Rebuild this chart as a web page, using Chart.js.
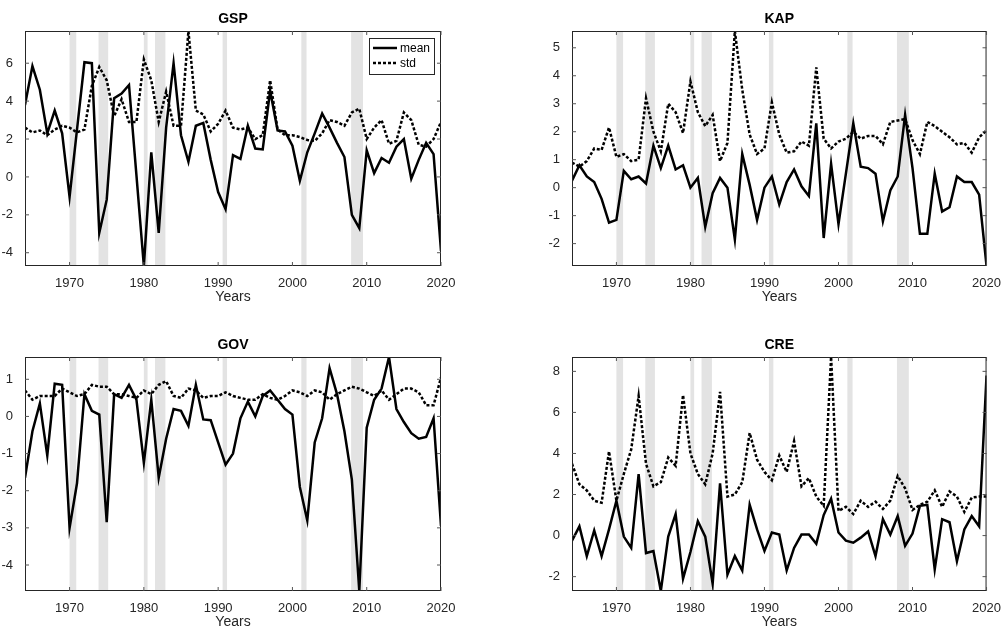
<!DOCTYPE html>
<html>
<head>
<meta charset="utf-8">
<script src="https://cdn.jsdelivr.net/npm/chart.js@4/dist/chart.umd.min.js"></script>
<style>
body { margin:0; background:#fff; }
.box { position:absolute; }
</style>
</head>
<body>
<div class="box" style="left:0;top:0;width:500px;height:310px"><canvas id="gsp"></canvas></div>
<div class="box" style="left:500px;top:0;width:503px;height:310px"><canvas id="kap"></canvas></div>
<div class="box" style="left:0;top:320px;width:500px;height:307px"><canvas id="gov"></canvas></div>
<div class="box" style="left:500px;top:320px;width:503px;height:307px"><canvas id="cre"></canvas></div>
<script>
var years = [];
for (var y = 1964; y <= 2020; y++) years.push(y);

var recessions = [[1970.0,1970.9],[1973.9,1975.2],[1980.0,1980.5],[1981.5,1982.9],[1990.6,1991.2],[2001.2,2001.9],[2007.9,2009.5]];

var gspMean = [3.8,5.85,4.6,2.3,3.5,2.3,-1.05,2.5,6.05,6.0,-2.95,-1.2,4.15,4.4,4.85,0.1,-4.7,1.3,-2.95,2.6,6.0,2.2,0.8,2.7,2.85,0.9,-0.8,-1.7,1.15,0.95,2.7,1.5,1.45,4.55,2.45,2.4,1.65,-0.2,1.3,2.3,3.35,2.6,1.8,1.05,-2.0,-2.7,1.4,0.2,1.0,0.75,1.6,2.0,-0.1,0.9,1.8,1.2,-3.9];
var gspStd = [2.6,2.35,2.45,2.2,2.5,2.7,2.6,2.35,2.5,4.8,5.8,5.1,3.2,4.1,2.9,2.9,6.2,5.1,2.9,4.5,2.7,2.7,7.7,3.5,3.3,2.4,2.8,3.5,2.6,2.5,2.6,2.0,2.2,5.1,2.5,2.2,2.2,2.1,1.95,1.9,2.3,3.0,2.9,2.7,3.4,3.6,2.0,2.6,3.0,1.75,1.9,3.4,3.0,1.7,1.6,2.0,2.9];
var kapMean = [0.25,0.8,0.4,0.2,-0.4,-1.25,-1.15,0.6,0.3,0.4,0.15,1.5,0.7,1.5,0.65,0.8,0.0,0.35,-1.4,-0.2,0.35,0.0,-1.85,1.2,0.1,-1.15,0.0,0.4,-0.6,0.2,0.65,0.05,-0.3,2.3,-1.8,0.85,-1.3,0.5,2.3,0.75,0.7,0.5,-1.2,-0.1,0.4,2.6,0.7,-1.65,-1.65,0.5,-0.85,-0.7,0.4,0.2,0.2,-0.25,-2.8];
var kapStd = [0.9,0.75,0.95,1.4,1.35,2.15,1.1,1.2,0.95,1.0,3.2,2.0,1.3,3.0,2.7,1.95,3.8,2.7,2.2,2.6,0.95,1.6,5.6,3.5,1.9,1.2,1.4,3.05,1.9,1.25,1.3,1.65,1.5,4.3,1.75,1.4,1.65,1.75,2.0,1.75,1.85,1.85,1.55,2.35,2.4,2.45,1.7,1.2,2.35,2.2,2.0,1.8,1.55,1.6,1.25,1.8,2.05];
var govMean = [-1.65,-0.4,0.35,-1.05,0.88,0.85,-3.0,-1.8,0.6,0.15,0.05,-2.85,0.6,0.5,0.85,0.45,-1.25,0.45,-1.65,-0.6,0.2,0.15,-0.25,0.85,-0.08,-0.1,-0.7,-1.3,-1.0,-0.05,0.4,0.0,0.55,0.7,0.45,0.2,0.05,-1.9,-2.8,-0.7,-0.05,1.3,0.6,-0.4,-1.7,-4.7,-0.3,0.45,0.75,1.6,0.2,-0.15,-0.45,-0.6,-0.55,-0.05,-2.95];
var govStd = [0.7,0.45,0.55,0.55,0.55,0.75,0.65,0.55,0.6,0.85,0.8,0.8,0.6,0.6,0.55,0.5,0.7,0.6,0.85,0.95,0.55,0.5,0.75,0.7,0.5,0.55,0.55,0.65,0.55,0.5,0.45,0.45,0.6,0.5,0.45,0.55,0.7,0.65,0.55,0.7,0.65,0.45,0.6,0.7,0.8,0.75,0.65,0.55,0.7,0.45,0.6,0.75,0.75,0.65,0.3,0.3,1.05];
var creMean = [-0.25,0.45,-1.0,0.25,-1.0,0.3,1.7,-0.05,-0.6,3.0,-0.85,-0.75,-2.7,-0.05,1.05,-2.1,-0.8,0.7,-0.05,-2.35,2.55,-1.9,-1.0,-1.7,1.5,0.3,-0.75,0.15,0.05,-1.7,-0.6,0.05,0.05,-0.4,1.0,1.8,0.15,-0.25,-0.35,-0.1,0.2,-1.0,0.8,0.05,0.95,-0.5,0.1,1.45,1.5,-1.65,0.8,0.65,-1.25,0.3,0.95,0.45,7.8];
var creStd = [3.5,2.5,2.2,1.7,1.6,4.1,1.7,3.0,4.2,6.8,3.5,2.4,2.6,3.8,3.4,6.85,4.0,3.0,2.5,4.0,7.0,1.9,2.0,2.6,5.0,3.7,3.1,2.7,3.9,3.1,4.6,2.4,2.8,1.9,1.45,8.7,1.2,1.4,1.05,1.7,1.4,1.65,1.3,1.7,2.9,2.3,1.25,1.5,1.65,2.2,1.4,2.15,1.9,1.15,1.85,1.9,1.9];

var xTicks = [1970,1980,1990,2000,2010,2020];

var matlabPlugin = {
    id: 'matlab',
    beforeDatasetsDraw: function(chart) {
        var ctx = chart.ctx, a = chart.chartArea, xs = chart.scales.x;
        ctx.save();
        ctx.fillStyle = '#e3e3e3';
        recessions.forEach(function(r) {
            var x0 = xs.getPixelForValue(r[0]), x1 = xs.getPixelForValue(r[1]);
            ctx.fillRect(x0, a.top, x1 - x0, a.bottom - a.top);
        });
        ctx.restore();
    },
    afterDraw: function(chart) {
        var ctx = chart.ctx, a = chart.chartArea, o = chart.options.plugins.matlab;
        var xs = chart.scales.x, ys = chart.scales.y;
        ctx.save();
        ctx.strokeStyle = '#262626';
        ctx.lineWidth = 1;
        ctx.strokeRect(a.left + 0.5, a.top + 0.5, a.right - a.left - 1, a.bottom - a.top - 1);
        // inner tick marks like matlab
        ctx.strokeStyle = '#555';
        xs.ticks.forEach(function(t) {
            var px = xs.getPixelForValue(t.value);
            ctx.beginPath(); ctx.moveTo(px, a.bottom); ctx.lineTo(px, a.bottom - 4);
            ctx.moveTo(px, a.top); ctx.lineTo(px, a.top + 4); ctx.stroke();
        });
        ys.ticks.forEach(function(t) {
            var py = ys.getPixelForValue(t.value);
            ctx.beginPath(); ctx.moveTo(a.left, py); ctx.lineTo(a.left + 4, py);
            ctx.moveTo(a.right, py); ctx.lineTo(a.right - 4, py); ctx.stroke();
        });
        ctx.fillStyle = '#000';
        ctx.textAlign = 'center';
        ctx.font = 'bold 14px "Liberation Sans", Arial, sans-serif';
        ctx.fillText(o.title, (a.left + a.right) / 2, a.top - 8);
        ctx.fillStyle = '#262626';
        ctx.font = '14px "Liberation Sans", Arial, sans-serif';
        ctx.fillText('Years', (a.left + a.right) / 2, a.bottom + 35);
        if (o.legend) {
            var lx = a.right - 72, ly = a.top + 7;
            ctx.fillStyle = '#fff';
            ctx.fillRect(lx, ly, 65, 36);
            ctx.strokeStyle = '#262626';
            ctx.strokeRect(lx + 0.5, ly + 0.5, 65, 36);
            ctx.strokeStyle = '#000';
            ctx.lineWidth = 2.5;
            ctx.beginPath(); ctx.moveTo(lx + 4, ly + 10); ctx.lineTo(lx + 28, ly + 10); ctx.stroke();
            ctx.setLineDash([3, 2]);
            ctx.beginPath(); ctx.moveTo(lx + 4, ly + 25); ctx.lineTo(lx + 28, ly + 25); ctx.stroke();
            ctx.setLineDash([]);
            ctx.fillStyle = '#000';
            ctx.textAlign = 'left';
            ctx.font = '12px "Liberation Sans", Arial, sans-serif';
            ctx.fillText('mean', lx + 31, ly + 14);
            ctx.fillText('std', lx + 31, ly + 29);
        }
        ctx.restore();
    }
};

function makeChart(id, title, mean, std, yMin, yMax, yTicks, yWidth, pad, legend) {
    var toPts = function(arr) { return arr.map(function(v, i) { return {x: years[i], y: v}; }); };
    return new Chart(document.getElementById(id), {
        type: 'line',
        data: {
            datasets: [
                {label: 'mean', data: toPts(mean), borderColor: '#000', borderWidth: 2.5, pointRadius: 0, tension: 0},
                {label: 'std', data: toPts(std), borderColor: '#000', borderWidth: 2.5, borderDash: [3, 2], pointRadius: 0, tension: 0}
            ]
        },
        options: {
            responsive: true,
            maintainAspectRatio: false,
            animation: false,
            layout: {padding: {top: pad.top, right: pad.right, left: 0, bottom: pad.extra}},
            plugins: {legend: {display: false}, tooltip: {enabled: false},
                matlab: {title: title, legend: legend}},
            scales: {
                x: {
                    type: 'linear', min: 1964, max: 2020,
                    grid: {display: false}, border: {display: false},
                    afterBuildTicks: function(ax) { ax.ticks = xTicks.map(function(v) { return {value: v}; }); },
                    afterFit: function(ax) { ax.height = pad.bottom; },
                    ticks: {color: '#262626', font: {size: 13, family: '"Liberation Sans", Arial, sans-serif'}, maxRotation: 0, padding: 2,
                        callback: function(v) { return String(v); }}
                },
                y: {
                    min: yMin, max: yMax,
                    grid: {display: false}, border: {display: false},
                    afterBuildTicks: function(ax) { ax.ticks = yTicks.map(function(v) { return {value: v}; }); },
                    afterFit: function(ax) { ax.width = yWidth; },
                    ticks: {color: '#262626', font: {size: 13, family: '"Liberation Sans", Arial, sans-serif'}, padding: 4}
                }
            }
        },
        plugins: [matlabPlugin]
    });
}

makeChart('gsp', 'GSP', gspMean, gspStd, -4.7, 7.7, [-4,-2,0,2,4,6], 25, {top: 31, right: 59, bottom: 34, extra: 10}, true);
makeChart('kap', 'KAP', kapMean, kapStd, -2.8, 5.6, [-2,-1,0,1,2,3,4,5], 72, {top: 31, right: 15, bottom: 34, extra: 10}, false);
makeChart('gov', 'GOV', govMean, govStd, -4.7, 1.6, [-4,-3,-2,-1,0,1], 25, {top: 37, right: 59, bottom: 36, extra: 0}, false);
makeChart('cre', 'CRE', creMean, creStd, -2.7, 8.7, [-2,0,2,4,6,8], 72, {top: 37, right: 15, bottom: 36, extra: 0}, false);
</script>
</body>
</html>
